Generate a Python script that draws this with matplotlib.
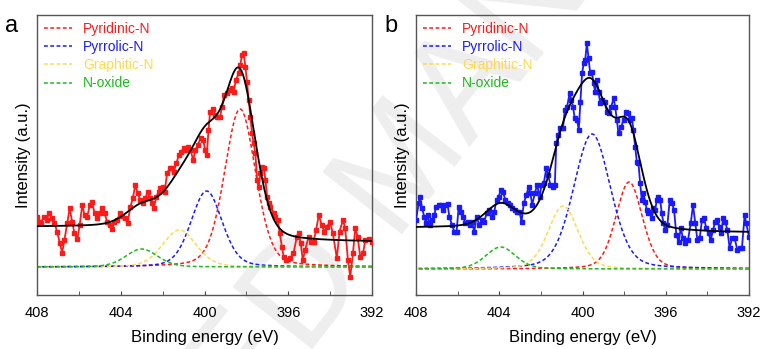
#!/usr/bin/env python
# -*- coding: utf-8 -*-
# Filename: plot.py

"""
DESCRIPTION:
N 1s XPS spectra (panels a and b) with fitted components.
"""

import numpy as np
import matplotlib
matplotlib.use("Agg")
from matplotlib import pyplot as plt

plt.rcParams["font.family"] = ["Liberation Sans", "DejaVu Sans"]

# Component names and colours (same for both panels)
names = ["Pyridinic-N", "Pyrrolic-N", "Graphitic-N", "N-oxide"]
colors = ["#ff1a1a", "#1a1aff", "#ffd94d", "#1fb81f"]

# Panel a: measured spectrum
energy_a = [408.00, 407.92, 407.81, 407.68, 407.52, 407.44, 407.28, 407.17,
	407.04, 406.91, 406.80, 406.69, 406.56, 406.44, 406.32, 406.21, 406.08,
	405.96, 405.84, 405.73, 405.60, 405.48, 405.37, 405.25, 405.13, 405.00,
	404.89, 404.77, 404.65, 404.52, 404.41, 404.30, 404.17, 404.04, 403.93,
	403.78, 403.67, 403.54, 403.42, 403.31, 403.19, 403.07, 402.94, 402.83,
	402.71, 402.62, 402.51, 402.43, 402.30, 402.19, 402.11, 401.98, 401.90,
	401.79, 401.66, 401.55, 401.47, 401.34, 401.23, 401.12, 400.99, 400.91,
	400.80, 400.67, 400.54, 400.43, 400.32, 400.19, 400.06, 399.97, 399.89,
	399.81, 399.73, 399.60, 399.49, 399.38, 399.25, 399.17, 399.06, 398.93,
	398.80, 398.69, 398.61, 398.50, 398.37, 398.29, 398.21, 398.13, 398.05,
	397.97, 397.89, 397.81, 397.73, 397.65, 397.57, 397.49, 397.41, 397.33,
	397.25, 397.17, 397.09, 397.01, 396.93, 396.85, 396.69, 396.61, 396.50,
	396.41, 396.30, 396.22, 396.09, 395.91, 395.75, 395.59, 395.51, 395.40,
	395.31, 395.19, 395.03, 394.92, 394.79, 394.67, 394.54, 394.40, 394.28,
	394.16, 394.00, 393.87, 393.68, 393.55, 393.39, 393.28, 393.15, 393.04,
	392.91, 392.80, 392.69, 392.56, 392.43, 392.32, 392.16, 392.00]
counts_a = [78.3, 73.3, 72.3, 78.3, 75.0, 81.7, 76.7, 72.3,
	63.3, 51.7, 42.3, 55.0, 71.7, 86.7, 73.3, 61.7, 55.7,
	70.0, 90.0, 80.0, 78.3, 90.0, 93.3, 81.7, 76.7, 81.7,
	86.7, 81.7, 73.3, 70.0, 65.7, 73.3, 75.0, 81.7, 79.0,
	76.7, 71.7, 88.3, 96.7, 110.0, 101.7, 95.0, 91.7, 96.7,
	103.3, 96.7, 91.7, 86.7, 98.3, 103.3, 106.7, 108.3, 103.3,
	121.7, 126.7, 126.7, 123.3, 131.7, 140.0, 143.3, 146.7, 145.0,
	148.3, 145.0, 135.0, 145.0, 150.0, 156.7, 155.0, 145.0, 140.0,
	165.0, 183.3, 185.7, 180.0, 177.7, 178.3, 188.3, 200.0, 201.7,
	205.0, 206.7, 203.3, 215.0, 221.7, 230.0, 240.0, 241.7, 228.3,
	213.3, 195.0, 178.3, 161.7, 151.7, 141.7, 115.0, 108.3, 121.7,
	128.3, 126.7, 115.0, 98.3, 91.7, 88.3, 81.7, 78.3, 75.0,
	61.7, 48.3, 38.3, 35.0, 36.7, 41.7, 58.3, 61.7, 51.7,
	35.0, 45.0, 58.3, 53.3, 53.3, 65.0, 80.0, 70.0, 63.3,
	68.3, 73.3, 61.7, 36.7, 63.3, 75.0, 66.7, 35.0, 18.3,
	41.7, 66.7, 58.3, 38.3, 41.7, 55.0, 55.7, 53.3]

# Panel a: fitted components (centre eV, height, FWHM eV)
center_a = [398.30, 399.90, 401.20, 403.00]
height_a = [158, 76, 37, 18]
fwhm_a = [1.75, 1.75, 1.9, 1.8]
base_a = 28
bg_a = [53, 68]   # background at low / high binding energy

# Panel b: measured spectrum
energy_b = [408.00, 407.87, 407.81, 407.71, 407.60, 407.52, 407.44, 407.33,
	407.23, 407.12, 407.04, 406.91, 406.80, 406.72, 406.59, 406.48, 406.40,
	406.27, 406.16, 406.05, 405.95, 405.84, 405.73, 405.63, 405.52, 405.41,
	405.31, 405.20, 405.09, 404.96, 404.83, 404.72, 404.61, 404.48, 404.35,
	404.24, 404.13, 404.03, 403.92, 403.82, 403.71, 403.60, 403.50, 403.38,
	403.25, 403.14, 403.03, 402.93, 402.82, 402.70, 402.58, 402.50, 402.42,
	402.29, 402.18, 402.06, 401.97, 401.86, 401.74, 401.65, 401.54, 401.42,
	401.33, 401.26, 401.17, 401.06, 400.94, 400.85, 400.74, 400.62, 400.53,
	400.46, 400.37, 400.26, 400.18, 400.10, 400.02, 399.94, 399.87, 399.79,
	399.71, 399.63, 399.55, 399.47, 399.39, 399.31, 399.23, 399.15, 399.07,
	398.94, 398.83, 398.72, 398.62, 398.51, 398.43, 398.35, 398.27, 398.14,
	398.03, 397.92, 397.82, 397.71, 397.63, 397.55, 397.47, 397.39, 397.31,
	397.23, 397.15, 397.07, 396.99, 396.91, 396.83, 396.75, 396.67, 396.59,
	396.51, 396.43, 396.35, 396.27, 396.19, 396.11, 396.03, 395.92, 395.81,
	395.70, 395.60, 395.49, 395.38, 395.28, 395.17, 395.06, 394.93, 394.80,
	394.69, 394.58, 394.48, 394.37, 394.26, 394.16, 394.05, 393.94, 393.84,
	393.73, 393.62, 393.52, 393.41, 393.33, 393.25, 393.14, 393.04, 392.93,
	392.82, 392.69, 392.56, 392.45, 392.34, 392.21, 392.13, 392.00]
counts_b = [75.0, 91.7, 98.3, 86.7, 78.3, 71.7, 80.0, 70.0,
	75.0, 80.0, 88.3, 90.0, 90.0, 85.0, 90.0, 90.7, 78.3,
	70.0, 63.3, 63.3, 88.3, 83.3, 78.3, 71.7, 73.3, 70.0,
	73.3, 63.3, 78.3, 70.0, 75.0, 73.3, 81.7, 85.0, 78.3,
	83.3, 95.0, 98.3, 105.0, 103.3, 95.0, 91.7, 90.0, 86.7,
	85.0, 83.3, 83.3, 73.3, 91.7, 100.0, 108.3, 101.7, 90.0,
	101.7, 110.0, 98.3, 110.0, 111.7, 126.7, 120.0, 110.0, 108.3,
	110.0, 151.7, 160.0, 166.7, 166.7, 185.0, 188.3, 201.7, 195.0,
	188.3, 176.7, 175.0, 165.0, 193.3, 221.7, 231.7, 235.0, 251.7,
	236.7, 221.7, 223.3, 211.7, 203.3, 215.0, 203.3, 191.7, 195.0,
	193.3, 183.3, 181.7, 188.3, 196.7, 188.3, 175.0, 161.7, 168.3,
	175.0, 183.3, 181.7, 175.0, 176.7, 165.0, 148.3, 133.3, 131.7,
	111.7, 95.0, 101.7, 93.3, 85.0, 81.7, 83.3, 76.7, 86.7,
	85.0, 95.0, 98.3, 95.0, 81.7, 71.7, 65.0, 70.0, 95.0,
	91.7, 85.0, 60.0, 53.3, 66.7, 56.7, 51.7, 55.0, 71.7,
	90.0, 71.7, 55.0, 56.7, 75.0, 76.7, 66.7, 61.7, 55.0,
	65.0, 73.3, 75.0, 68.3, 61.7, 76.7, 73.3, 65.0, 46.7,
	56.7, 56.7, 45.0, 46.7, 46.7, 80.0, 71.7, 58.0]

# Panel b: fitted components (centre eV, height, FWHM eV)
center_b = [397.76, 399.54, 400.93, 403.93]
height_b = [87, 135, 63, 22]
fwhm_b = [1.5, 2.1, 1.7, 1.7]
base_b = 26
bg_b = [62, 67]

lor_frac = 0.25   # Lorentzian fraction of the pseudo-Voigt line shape


def voigt(e, c, h, w):

	"""
	Pseudo-Voigt peak of height h, centre c and FWHM w.
	"""

	x = (e - c) / w
	g = np.exp(-4 * np.log(2) * x ** 2)
	l = 1. / (1 + 4 * x ** 2)
	return h * ((1 - lor_frac) * g + lor_frac * l)


def panel(ax, energy, counts, dcolor, center, height, fwhm, base, bg, tag):

	"""
	Draws one spectrum with its fit.
	"""

	e = np.linspace(392, 408, 801)
	comps = [voigt(e, c, h, w) for c, h, w in zip(center, height, fwhm)]
	total = np.sum(comps, axis=0)

	# Shirley-type step background
	cum = np.cumsum(total)
	shirley = bg[0] + (bg[1] - bg[0]) * cum / cum[-1]

	ax.plot(energy, counts, "-s", color=dcolor, lw=1.3, ms=2.6,
		mec=dcolor, zorder=3)
	ax.plot(e, shirley + total, color="black", lw=1.3, zorder=4)
	for comp, name, col in zip(comps, names, colors):
		ax.plot(e, base + comp, "--", color=col, lw=1.1,
			dashes=(2.5, 1.6), label=name, zorder=2)

	ax.set_xlim(408, 392)
	ax.set_ylim(0, 280)
	ax.set_xticks([408, 404, 400, 396, 392])
	ax.set_xticks([406, 402, 398, 394], minor=True)
	ax.set_yticks([])
	ax.tick_params(axis="x", which="both", direction="in", labelsize=10.5,
		pad=8, color="#444444", length=3)
	for s in ax.spines.values():
		s.set_color("#555555")
		s.set_linewidth(1.0)
	ax.set_facecolor("none")

	ax.set_xlabel("Binding energy (eV)", fontsize=12, labelpad=7)
	ax.set_ylabel("Intensity (a.u.)", fontsize=12, labelpad=4)

	ax.legend(loc="upper left", frameon=False, fontsize=10,
		handlelength=2.0, handletextpad=0.8, labelspacing=0.3,
		borderaxespad=0.0, borderpad=0.5, labelcolor="linecolor")

	ax.text(-0.075, 1.0, tag, transform=ax.transAxes, fontsize=17,
		va="top", ha="center")


fig = plt.figure(figsize=(7.63, 3.49), dpi=100)

# faint watermark behind both panels
fig.text(405 / 763., 180 / 349., "ACCEPTED MANUSCRIPT", rotation=52,
	fontsize=105, color="#eeeeee", ha="center", va="center", zorder=-5,
	rotation_mode="anchor")

ax1 = fig.add_axes([37 / 763., 1 - 295 / 349., 335 / 763., 280 / 349.])
ax2 = fig.add_axes([416 / 763., 1 - 295 / 349., 333 / 763., 280 / 349.])

panel(ax1, energy_a, counts_a, "#ff1a1a", center_a, height_a, fwhm_a,
	base_a, bg_a, "a")
panel(ax2, energy_b, counts_b, "#1a1aff", center_b, height_b, fwhm_b,
	base_b, bg_b, "b")

fig.savefig("out.png", dpi=100)
